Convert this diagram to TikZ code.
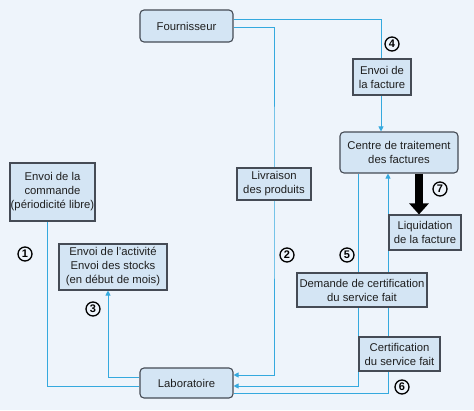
\documentclass[tikz,border=0pt]{standalone}
\usepackage{fontspec}
\setmainfont{Liberation Sans}
\usetikzlibrary{arrows.meta}
\pgfdeclarelayer{back}
\pgfdeclarelayer{lines}
\pgfsetlayers{back,lines,main}
\definecolor{bgc}{HTML}{EEF4FB}
\definecolor{boxfill}{HTML}{D4E5F4}
\definecolor{boxline}{HTML}{454B55}
\definecolor{flow}{HTML}{35A9DE}
\tikzset{
  box/.style={draw=boxline, fill=boxfill, line width=1.1pt, align=center, inner sep=0pt,
    font=\fontsize{11.3}{14}\selectfont, text=black!88},
  rbox/.style={box, rounded corners=4pt},
  flowline/.style={draw=flow, line width=0.9pt},
  flowarrow/.style={flowline, -{Triangle[length=5pt,width=5pt]}},
  num/.style={draw=black, circle, line width=1.3pt, inner sep=0pt, minimum size=14pt,
    font=\bfseries\fontsize{11}{11}\selectfont}
}
\begin{document}
\begin{tikzpicture}[x=1pt,y=-1pt]
\useasboundingbox (0,0) rectangle (474,410);
\begin{pgfonlayer}{back}
\fill[bgc] (0,0) rectangle (474,410);
\end{pgfonlayer}
% nodes
\node[rbox, minimum width=93pt, minimum height=32pt] (Four) at (186.5,26) {Fournisseur};
\node[box, minimum width=58pt, minimum height=36pt] (Fact) at (382,77) {Envoi de\\la facture};
\node[rbox, minimum width=118pt, minimum height=41pt] (Centre) at (399,152.5) {Centre de traitement\\des factures};
\node[box, minimum width=74pt, minimum height=32pt] (Livr) at (274,184) {Livraison\\des produits};
\node[box, minimum width=85pt, minimum height=58pt] (Comm) at (52.5,192) {Envoi de la\\commande\\(périodicité libre)};
\node[box, minimum width=108pt, minimum height=46pt] (Activ) at (113,267) {Envoi de l’activité\\Envoi des stocks\\(en début de mois)};
\node[box, minimum width=130pt, minimum height=34pt] (Dem) at (362,290) {Demande de certification\\du service fait};
\node[box, minimum width=72pt, minimum height=35pt] (Liq) at (425,232.5) {Liquidation\\de la facture};
\node[box, minimum width=81pt, minimum height=34pt] (Cert) at (399.5,354) {Certification\\du service fait};
\node[rbox, minimum width=93pt, minimum height=30pt] (Lab) at (186.5,383) {Laboratoire};
% numbers
\node[num] (n1) at (25,254) {1};
\node[num] (n2) at (287,255) {2};
\node[num] (n3) at (93,309) {3};
\node[num] (n4) at (392,44) {4};
\node[num] (n5) at (347,255) {5};
\node[num] (n6) at (402,387) {6};
\node[num] (n7) at (440,189) {7};
% connectors
\begin{pgfonlayer}{lines}
\draw[flowline] ([yshift=7pt]Four.east) -| ([xshift=-1pt]Fact.north);
\draw[flowarrow] ([xshift=-1pt]Fact.south) -- ([xshift=-1pt]Fact.south |- Centre.north);
\draw[flowarrow] ([yshift=-1pt]Four.east) -| (Livr.center) |- ([yshift=8pt]Lab.east);
\draw[flowline] ([xshift=-5.5pt]Comm.south) |- ([yshift=-3pt]Lab.west);
\draw[flowarrow] ([yshift=6pt]Lab.west) -| ([xshift=-5pt]Activ.south);
\draw[flowarrow] ([xshift=-41pt]Centre.south) |- ([yshift=-3pt]Lab.east);
\draw[flowarrow] ([yshift=-10pt]Lab.east) -| ([xshift=-11pt]Centre.south);
\draw[black, line width=7.5pt, -{Triangle[length=11pt,width=19pt]}] ([xshift=20pt]Centre.south) -- ([xshift=20pt]Centre.south |- Liq.north);
\end{pgfonlayer}
\end{tikzpicture}
\end{document}
